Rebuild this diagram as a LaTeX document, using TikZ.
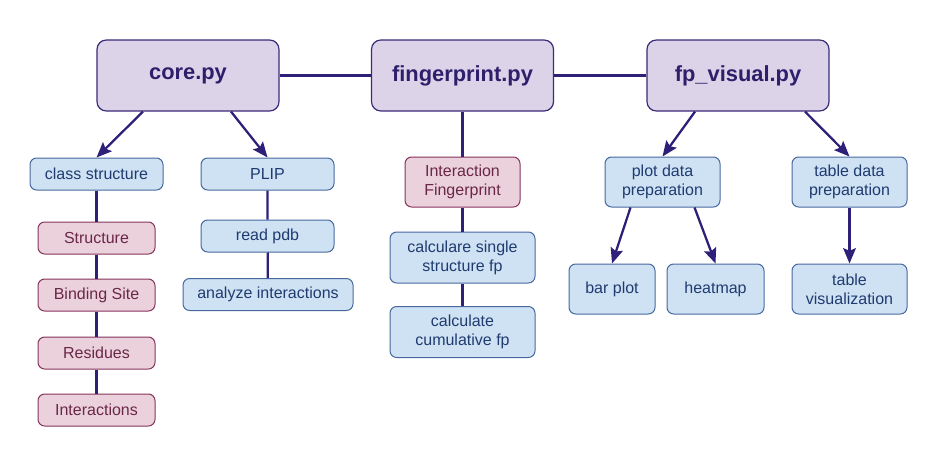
\documentclass[tikz,border=0pt]{standalone}
\usepackage{fontspec}
\setmainfont{Liberation Sans}
\usetikzlibrary{arrows.meta}

\definecolor{modfill}{HTML}{DCD3E9}
\definecolor{modline}{HTML}{3B2A78}
\definecolor{modtext}{HTML}{2E1F6B}
\definecolor{stepfill}{HTML}{CFE2F3}
\definecolor{stepline}{HTML}{47689E}
\definecolor{steptext}{HTML}{1F3B70}
\definecolor{objfill}{HTML}{EAD1DC}
\definecolor{objline}{HTML}{86335C}
\definecolor{objtext}{HTML}{6B2747}
\definecolor{linkcol}{HTML}{2E1F78}

\begin{document}
\begin{tikzpicture}[x=0.75pt, y=-0.75pt, >={Stealth[length=11.5pt,width=9.5pt,inset=2pt]},
  module/.style={draw=modline, fill=modfill, line width=0.9pt, rounded corners=7pt,
    minimum width=136.5pt, minimum height=53.25pt, text=modtext,
    font=\bfseries\fontsize{16.4}{19}\selectfont},
  stepbox/.style={draw=stepline, fill=stepfill, line width=0.75pt, rounded corners=5pt,
    minimum width=99.75pt, minimum height=24pt, text=steptext, align=center, inner sep=2pt,
    font=\fontsize{12}{14.25}\selectfont},
  objbox/.style={stepbox, draw=objline, fill=objfill, text=objtext, minimum width=87.75pt},
  link/.style={draw=linkcol, line width=1.7pt},
  toplink/.style={draw=linkcol, line width=2.4pt}]
\useasboundingbox (0,0) rectangle (930,464);

% modules
\node[module] (core) at (188,75.5) {core.py};
\node[module] (fingerprint) at (462.5,75.5) {fingerprint.py};
\node[module] (visual) at (738,75.5) {fp\_visual.py};
\draw[toplink] (core) -- (fingerprint);
\draw[toplink] (fingerprint) -- (visual);

% core.py
\node[stepbox] (classes) at (96.5,174) {class structure};
\node[objbox] (structure) at (96.5,238) {Structure};
\node[objbox] (site) at (96.5,295) {Binding Site};
\node[objbox] (residues) at (96.5,353) {Residues};
\node[objbox] (interactions) at (96.5,410) {Interactions};
\node[stepbox] (plip) at (267.5,174) {PLIP};
\node[stepbox] (readpdb) at (267.5,236) {read pdb};
\node[stepbox, minimum width=127.5pt] (analyze) at (268,294.5) {analyze interactions};
\draw[link,->] ([xshift=-33.75pt]core.south) -- (classes.north);
\draw[link,->] ([xshift=32.25pt]core.south) -- (plip.north);
\draw[link] (classes) -- (structure) -- (site) -- (residues) -- (interactions);
\draw[link] (plip) -- (readpdb) -- (analyze);

% fingerprint.py
\node[objbox, minimum width=86.25pt, minimum height=37.5pt] (ifp) at (462.5,182) {Interaction\\Fingerprint};
\node[stepbox, minimum width=108.75pt, minimum height=38.25pt] (single) at (462.5,257.5) {calculare single\\structure fp};
\node[stepbox, minimum width=108.75pt, minimum height=38.25pt] (cumul) at (462.5,332) {calculate\\cumulative fp};
\draw[link] (fingerprint) -- (ifp) -- (single) -- (cumul);

% fp_visual.py
\node[stepbox, minimum width=86.25pt, minimum height=37.5pt] (plotprep) at (662.5,182) {plot data\\preparation};
\node[stepbox, minimum width=86.25pt, minimum height=37.5pt] (tableprep) at (849.5,182) {table data\\preparation};
\node[stepbox, minimum width=64.5pt, minimum height=37.5pt] (bar) at (612,289) {bar plot};
\node[stepbox, minimum width=72.75pt, minimum height=37.5pt] (heat) at (715.5,289) {heatmap};
\node[stepbox, minimum width=86.25pt, minimum height=37.5pt] (tablevis) at (849.5,289) {table\\visualization};
\draw[link,->] ([xshift=-32.25pt]visual.south) -- (plotprep.north);
\draw[link,->] ([xshift=50.25pt]visual.south) -- (tableprep.north);
\draw[link,->] ([xshift=-24pt]plotprep.south) -- (bar.north);
\draw[link,->] ([xshift=24pt]plotprep.south) -- (heat.north);
\draw[link,->] (tableprep) -- (tablevis);
\end{tikzpicture}
\end{document}
